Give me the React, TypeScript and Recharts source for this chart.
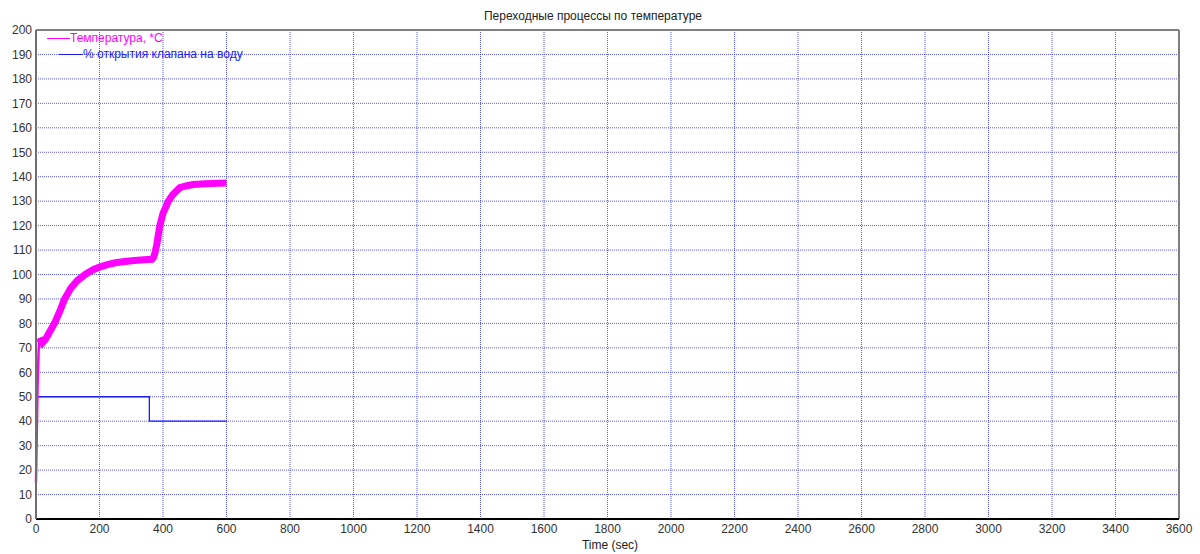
import { LineChart, Line, XAxis, YAxis, CartesianGrid, ReferenceLine, Legend } from 'recharts'

// time axis, seconds
const timeTicks = [0, 200, 400, 600, 800, 1000, 1200, 1400, 1600, 1800, 2000, 2200, 2400, 2600, 2800, 3000, 3200, 3400, 3600]
const tempTicks = [0, 10, 20, 30, 40, 50, 60, 70, 80, 90, 100, 110, 120, 130, 140, 150, 160, 170, 180, 190, 200]

// initial fast rise (thin trace)
const riseTime = [0, 2, 5, 8, 10]
const riseTemp = [15, 32, 55, 68, 74]

// temperature, *C (noisy trace, drawn thick)
const tempTime = [10, 15, 20, 30, 45, 60, 75, 90, 110, 130, 155, 180, 200, 225, 250, 280, 310, 340, 365, 370, 375, 380, 390, 400, 417, 430, 453, 475, 495, 520, 550, 575, 600]
const tempValue = [74, 73, 72, 73.5, 77, 80.5, 85, 90, 94.5, 97.5, 100, 102, 103, 104, 104.8, 105.3, 105.7, 106, 106.2, 107, 109, 112, 120, 125, 130, 132.5, 135.5, 136.3, 136.8, 137, 137.2, 137.3, 137.4]

// valve opening, %
const valveTime = [0, 357, 357, 600]
const valveValue = [50, 50, 40, 40]

type Row = { t: number; rise?: number; temp?: number; valve?: number }

const rows: Row[] = []
riseTime.forEach((t, i) => rows.push({ t, rise: riseTemp[i] }))
tempTime.forEach((t, i) => rows.push({ t, temp: tempValue[i] }))
valveTime.forEach((t, i) => rows.push({ t, valve: valveValue[i] }))

const magenta = '#ff00ff'
const blue = '#1a1aff'
const font = 'Arial, "Liberation Sans", sans-serif'

function LegendBox() {
  return (
    <div style={{ position: 'absolute', left: 47, top: 30, fontFamily: font, fontSize: 12, lineHeight: '16px' }}>
      <div style={{ display: 'flex', alignItems: 'center', color: magenta }}>
        <span style={{ display: 'inline-block', width: 23, height: 1, background: magenta }} />
        <span>Температура, *С</span>
      </div>
      <div style={{ display: 'flex', alignItems: 'center', color: blue, marginLeft: 12 }}>
        <span style={{ display: 'inline-block', width: 24, height: 1, background: blue }} />
        <span>% открытия клапана на воду</span>
      </div>
    </div>
  )
}

export default function App() {
  return (
    <div style={{ position: 'absolute', left: 0, top: 0, width: 1200, height: 554, background: '#fff', fontFamily: font }}>
      <div style={{ position: 'absolute', left: 393, width: 400, top: 9, textAlign: 'center', fontSize: 12, color: '#222' }}>
        Переходные процессы по температуре
      </div>
      <LineChart width={1200} height={554} data={rows} margin={{ top: 30, right: 21, left: 0, bottom: 0 }}>
        <CartesianGrid stroke="#2020ff" strokeOpacity={0.75} strokeDasharray="1 1" horizontalValues={tempTicks} verticalValues={timeTicks} />
        <XAxis
          dataKey="t"
          type="number"
          domain={[0, 3600]}
          ticks={timeTicks}
          interval={0}
          height={35}
          tickLine={false}
          tickSize={3}
          tickMargin={2}
          axisLine={{ stroke: '#000', strokeWidth: 2 }}
          tick={{ fill: '#333', fontSize: 12, fontFamily: font }}
        />
        <YAxis
          type="number"
          domain={[0, 200]}
          ticks={tempTicks}
          interval={0}
          width={36}
          tickLine={false}
          tickSize={2}
          tickMargin={2}
          axisLine={{ stroke: '#6e6e6e', strokeWidth: 2 }}
          tick={{ fill: '#333', fontSize: 12, fontFamily: font }}
        />
        <ReferenceLine y={200} stroke="#808080" strokeWidth={2} />
        <ReferenceLine x={3600} stroke="#808080" strokeWidth={2} />
        <Legend content={() => null} />
        <Line type="linear" dataKey="valve" stroke={blue} strokeWidth={1.3} dot={false} connectNulls isAnimationActive={false} />
        <Line type="linear" dataKey="rise" stroke={magenta} strokeWidth={2.5} dot={false} connectNulls isAnimationActive={false} />
        <Line type="linear" dataKey="temp" stroke={magenta} strokeWidth={7} dot={false} connectNulls isAnimationActive={false} />
      </LineChart>
      <LegendBox />
      <div style={{ position: 'absolute', left: 510, width: 200, top: 538, textAlign: 'center', fontSize: 12, color: '#222' }}>
        Time (sec)
      </div>
    </div>
  )
}
